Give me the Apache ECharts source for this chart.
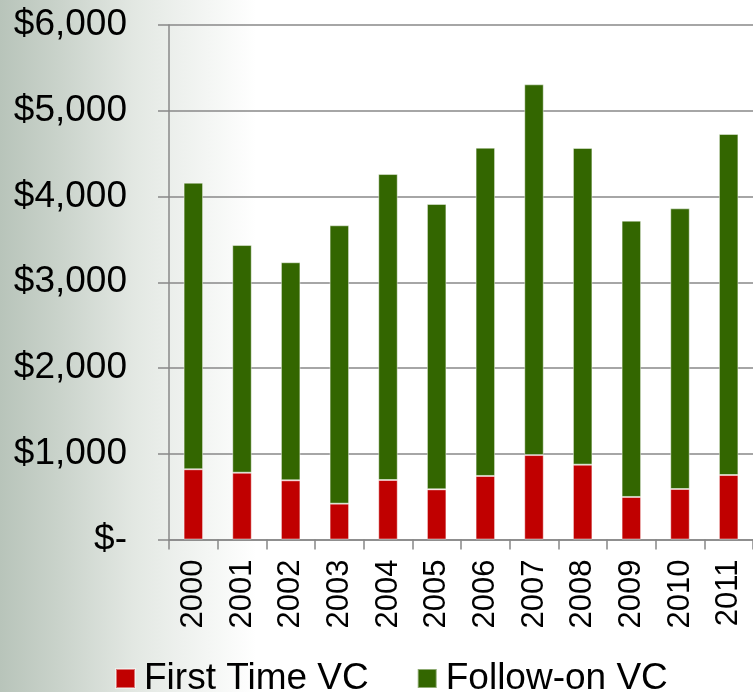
<!DOCTYPE html>
<html>
<head>
<meta charset="utf-8">
<script src="https://cdn.jsdelivr.net/npm/echarts@6/dist/echarts.min.js"></script>
<style>
html,body{margin:0;padding:0;}
#chart{width:753px;height:692px;}
</style>
</head>
<body>
<div id="chart"></div>
<script>
var years = ['2000','2001','2002','2003','2004','2005','2006','2007','2008','2009','2010','2011'];
var firstTimeVC = [819, 779, 690, 418, 694, 585, 741, 985, 873, 496, 589, 752];
var followOnVC = [3342, 2655, 2543, 3246, 3568, 3328, 3828, 4323, 3693, 3222, 3273, 3977];
var seriesNames = ['First Time VC', 'Follow-on VC'];
var seriesColors = ['#C00000', '#336600'];
var yTicks = [0, 1000, 2000, 3000, 4000, 5000, 6000];

var chart = echarts.init(document.getElementById('chart'), null, {renderer: 'canvas'});
var font = 'Liberation Sans, Arial, sans-serif';
chart.setOption({
  animation: false,
  backgroundColor: {
    type: 'linear', x: 0, y: 0, x2: 1, y2: 0,
    colorStops: [
      {offset: 0, color: '#b8c4ba'},
      {offset: 0.08, color: '#cad3cb'},
      {offset: 0.18, color: '#e3e8e3'},
      {offset: 0.34, color: '#ffffff'},
      {offset: 1, color: '#ffffff'}
    ]
  },
  grid: {left: 169, right: -3, top: 25, bottom: 152.5, containLabel: false},
  legend: {
    data: seriesNames,
    left: 110,
    top: 655,
    padding: 5,
    itemWidth: 19,
    itemHeight: 19,
    itemGap: 48,
    icon: 'rect',
    textStyle: {fontFamily: font, fontSize: 37, color: '#000', padding: [0, 0, 0, 4]}
  },
  xAxis: {
    type: 'category',
    data: years,
    axisLine: {lineStyle: {color: '#888888', width: 1.5}},
    axisTick: {show: true, length: 10, lineStyle: {color: '#888888', width: 1.5}},
    axisLabel: {rotate: 90, margin: 20, fontFamily: font, fontSize: 31, color: '#000'}
  },
  yAxis: {
    type: 'value',
    min: yTicks[0],
    max: yTicks[yTicks.length - 1],
    interval: 1000,
    axisLine: {show: true, lineStyle: {color: '#888888', width: 1.5}},
    axisTick: {show: true, length: 11, lineStyle: {color: '#888888', width: 1.5}},
    splitLine: {show: true, lineStyle: {color: '#888888', width: 1.5}},
    axisLabel: {
      margin: 42, fontFamily: font, fontSize: 37, color: '#000',
      formatter: function (v) { return v === 0 ? '$-' : '$' + v.toLocaleString('en-US'); }
    }
  },
  series: [
    {
      name: seriesNames[0], type: 'bar', stack: 'vc', data: firstTimeVC, barWidth: '40%',
      itemStyle: {color: seriesColors[0], borderColor: 'rgba(255,255,255,0.45)', borderWidth: 1}
    },
    {
      name: seriesNames[1], type: 'bar', stack: 'vc', data: followOnVC, barWidth: '40%',
      itemStyle: {color: seriesColors[1], borderColor: 'rgba(255,255,255,0.45)', borderWidth: 1}
    }
  ]
});
</script>
</body>
</html>
